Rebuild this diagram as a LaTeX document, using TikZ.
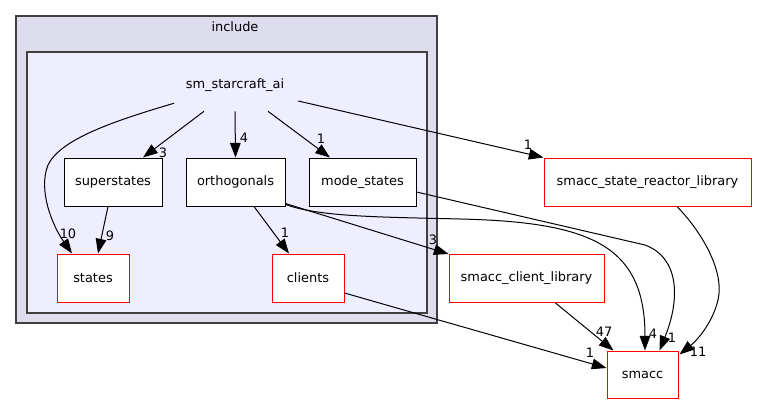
\documentclass[tikz,border=0pt]{standalone}
\usepackage{fontspec}
\setmainfont{DejaVu Sans}
\usetikzlibrary{arrows.meta,calc}
\definecolor{clout}{HTML}{DDDDEE}
\definecolor{clin}{HTML}{EEEEFF}
\definecolor{clborder}{HTML}{404040}
\begin{document}
\begin{tikzpicture}[x=0.75pt,y=-0.75pt,font=\fontsize{9.7}{11}\selectfont,
  box/.style={draw=black, fill=white, line width=0.75pt, minimum height=36pt, inner sep=0pt},
  redbox/.style={box, draw=red},
  edge/.style={draw=black, line width=0.75pt, -{Triangle[length=11pt,width=8pt]}},
  lbl/.style={inner sep=0pt}]
\useasboundingbox (0,0) rectangle (757,404);
% clusters
\draw[fill=clout, draw=clborder, line width=0.9pt] (16,16) rectangle (437,323);
\node[lbl] (inctitle) at (235,27) {include};
\draw[fill=clin, draw=clborder, line width=0.9pt] (27,52) rectangle (427,313);
\node[minimum width=93pt, minimum height=39pt, inner sep=0pt] (sm) at (235,85) {sm\_starcraft\_ai};
% nodes
\node[box, minimum width=73.5pt] (superstates) at (113,182) {superstates};
\node[box, minimum width=74.25pt] (orth) at (235.5,182) {orthogonals};
\node[box, minimum width=80.25pt] (mode) at (362.5,182) {mode\_states};
\node[redbox, minimum width=54pt] (states) at (93,278) {states};
\node[redbox, minimum width=54pt] (clients) at (308,278) {clients};
\node[redbox, minimum width=155.25pt] (reactor) at (647.5,182) {smacc\_state\_reactor\_library};
\node[redbox, minimum width=116.25pt] (clientlib) at (526.5,278.5) {smacc\_client\_library};
\node[redbox, minimum width=53.25pt, minimum height=35.25pt] (smacc) at (642.5,374.5) {smacc};
% edges
\draw[edge] ($(sm.south)+(-61,-8)$) .. controls (110,122) and (60,140) .. (48,165)
   .. controls (38,190) and (52,225) .. ($(states.north)+(-21,0)$);
\node[lbl] (l1) at (68,234) {10};
\draw[edge] ($(sm.south)+(-31,0)$) -- ($(superstates.north)+(30,0)$);
\node[lbl] (l2) at (163,153) {3};
\draw[edge] (sm.south) -- (orth.north);
\node[lbl] (l3) at (244,138) {4};
\draw[edge] ($(sm.south)+(33,0)$) -- ($(mode.north)+(-32.5,0)$);
\node[lbl] (l4) at (321,139) {1};
\draw[edge] ($(sm.east)+(1,16)$) -- (reactor.north west);
\node[lbl] (l5) at (528,145) {1};
\draw[edge] ($(superstates.south)+(-5,0)$) -- ($(states.north)+(5,0)$);
\node[lbl] (l6) at (110,236) {9};
\draw[edge] ($(orth.south)+(18.5,0)$) -- ($(clients.north)+(-19,0)$);
\node[lbl] (l7) at (285,233) {1};
\draw[edge] ($(orth.south east)+(0,-3)$) -- (clientlib.north west);
\node[lbl] (l8) at (433,240) {3};
\draw[edge] ($(orth.south east)+(0,-2)$) .. controls (320,217) and (380,217) .. (460,219)
   .. controls (590,222) and (645,245) .. ($(smacc.north)+(2.5,0)$);
\node[lbl] (l9) at (653,334) {4};
\draw[edge] ($(mode.east)+(0,10)$) -- (645,245) .. controls (680,258) and (680,300) .. ($(smacc.north)+(17,0)$);
\node[lbl] (l10) at (672,338) {1};
\draw[edge] ($(reactor.south)+(29.5,0)$) .. controls (700,230) and (725,270) .. (718,300)
   .. controls (712,325) and (695,342) .. ($(smacc.north east)+(1,4)$);
\node[lbl] (l11) at (698,352) {11};
\draw[edge] ($(clientlib.south)+(29,0)$) -- ($(smacc.north)+(-29,0)$);
\node[lbl] (l12) at (604,332) {47};
\draw[edge] ($(clients.east)+(0,15)$) -- ($(smacc.west)+(0,-6.5)$);
\node[lbl] (l13) at (590,353) {1};
\end{tikzpicture}
\end{document}
